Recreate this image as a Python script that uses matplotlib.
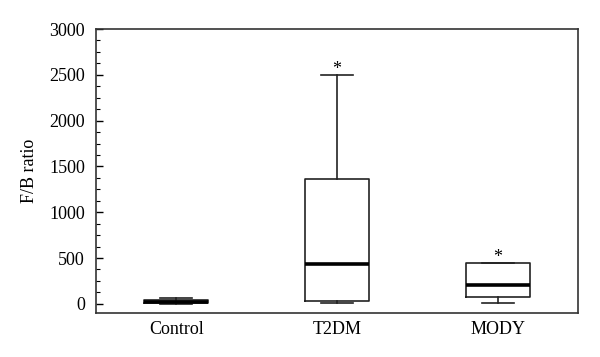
import matplotlib
matplotlib.use("Agg")
import matplotlib.pyplot as plt
from matplotlib.ticker import MultipleLocator

plt.rcParams['font.family'] = ['Liberation Serif', 'DejaVu Serif']

categories = ["Control", "T2DM", "MODY"]
whislo = [0, 8, 14]
q1 = [5, 35, 70]
med = [20, 430, 210]
q3 = [45, 1360, 450]
whishi = [60, 2500, 450]
star = [False, True, True]

stats = []
for i, c in enumerate(categories):
    stats.append(dict(label=c, whislo=whislo[i], q1=q1[i], med=med[i],
                      q3=q3[i], whishi=whishi[i], fliers=[]))

fig = plt.figure(figsize=(6.0, 3.57), dpi=100)
ax = fig.add_axes([96/600, 1 - 313/357, (578-96)/600, (313-29)/357])

ax.bxp(stats, positions=[1, 2, 3], widths=0.4, showfliers=False,
       boxprops=dict(color='#222222', linewidth=1.2),
       whiskerprops=dict(color='#222222', linewidth=1.2),
       capprops=dict(color='#222222', linewidth=1.2),
       medianprops=dict(color='black', linewidth=2.6),
       capwidths=0.2)

for i, s in enumerate(star):
    if s:
        ax.text(i + 1, whishi[i] - 40, "*", ha='center', va='bottom', fontsize=13)

ax.set_xlim(0.5, 3.5)
ax.set_ylim(-100, 3000)
ax.yaxis.set_major_locator(MultipleLocator(500))
ax.yaxis.set_minor_locator(MultipleLocator(125))
ax.tick_params(axis='y', which='major', direction='in', length=5, width=1, labelsize=13, pad=8)
ax.tick_params(axis='y', which='minor', direction='in', length=3, width=0.8)
ax.tick_params(axis='x', length=0, labelsize=13, pad=6)
ax.set_ylabel("F/B ratio", fontsize=13, labelpad=8)
for sp in ax.spines.values():
    sp.set_color('#333333')
    sp.set_linewidth(1.2)

fig.savefig("out.png", dpi=100)
